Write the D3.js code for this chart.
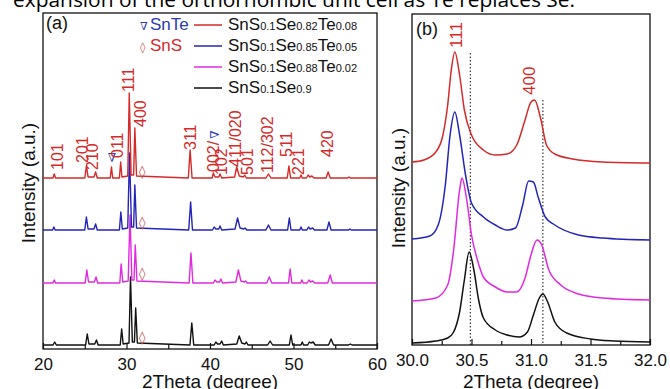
<!DOCTYPE html>
<html>
<head>
<meta charset="utf-8">
<script src="https://cdnjs.cloudflare.com/ajax/libs/d3/7.8.5/d3.min.js"></script>
<style>
body { margin: 0; background: #fff; }
svg { display: block; }
</style>
</head>
<body>
<script>
// ---------------- data ----------------
// panel (a): 2Theta, intensity above each pattern's own baseline (a.u.)
var redA = [[20,0],[21.2,0],[21.35,4],[21.5,0],[25.0,0],[25.2,12],[25.4,1],[26.1,1],[26.3,6],[26.5,0],[28.05,0],[28.2,11],[28.35,0],[29.15,0],[29.3,16],[29.45,1],[30.15,2],[30.33,85],[30.55,3],[30.85,3],[31.0,50],[31.2,2],[37.4,0],[37.62,28],[37.85,0],[40.25,0],[40.4,5],[40.6,1],[41.05,1],[41.2,4],[41.4,0],[42.95,1],[43.2,11],[43.5,2],[44.0,1],[44.15,3],[44.35,0],[46.7,0],[47.0,4],[47.3,0],[49.25,0],[49.45,12],[49.65,0],[50.75,0],[50.9,3],[51.05,0],[51.55,0],[51.75,3],[51.95,1],[52.2,2],[52.45,0],[53.9,0],[54.15,6],[54.4,0],[56.5,0],[56.65,1],[56.8,0],[60,0]];
var blueA = [[20,0],[21.15,0],[21.3,3],[21.45,0],[25.0,0],[25.2,13],[25.4,1],[26.1,1],[26.3,6],[26.5,0],[29.15,0],[29.32,18],[29.5,1],[30.15,2],[30.36,77],[30.6,3],[30.85,3],[31.0,45],[31.2,2],[37.45,0],[37.68,28],[37.9,0],[40.3,0],[40.5,3],[40.7,1],[41.05,1],[41.2,4],[41.4,0],[43.0,1],[43.3,12],[43.6,2],[44.05,1],[44.2,2],[44.4,0],[46.7,0],[47.0,5],[47.3,0],[49.3,0],[49.5,12],[49.7,0],[50.75,0],[50.9,3],[51.05,0],[51.6,0],[51.8,3],[52.0,1],[52.3,2],[52.5,0],[54.0,0],[54.25,8],[54.5,0],[56.6,0],[56.75,1],[56.9,0],[60,0]];
var magentaA = [[20,0],[21.2,0],[21.35,3],[21.5,0],[25.05,0],[25.25,13],[25.45,1],[26.15,1],[26.35,6],[26.55,0],[29.2,0],[29.36,19],[29.55,1],[30.2,2],[30.42,68],[30.65,3],[30.9,3],[31.05,38],[31.25,2],[37.5,0],[37.72,30],[37.95,0],[40.4,0],[40.6,3],[40.8,1],[41.15,1],[41.3,4],[41.5,0],[43.1,1],[43.4,13],[43.7,2],[44.1,1],[44.25,2],[44.45,0],[46.8,0],[47.1,6],[47.4,0],[49.4,0],[49.6,14],[49.8,0],[50.85,0],[51.0,3],[51.15,0],[51.65,0],[51.85,3],[52.05,1],[52.3,2],[52.55,0],[54.1,0],[54.4,8],[54.65,0],[60,0]];
var blackA = [[20,0],[21.2,0],[21.4,3],[21.6,0],[25.1,0],[25.3,11],[25.5,1],[26.2,1],[26.4,5],[26.6,0],[29.25,0],[29.42,16],[29.6,1],[30.3,2],[30.48,68],[30.7,3],[30.95,3],[31.1,37],[31.3,2],[37.6,0],[37.82,22],[38.05,0],[40.5,0],[40.7,3],[40.9,1],[41.2,1],[41.4,4],[41.6,0],[43.2,1],[43.5,9],[43.8,2],[44.2,1],[44.35,3],[44.55,0],[46.9,0],[47.2,4],[47.5,0],[49.5,0],[49.7,10],[49.9,0],[50.9,0],[51.05,3],[51.2,0],[51.7,0],[51.9,3],[52.1,2],[52.35,3],[52.6,0],[54.2,0],[54.5,6],[54.8,0],[56.6,0],[56.8,1],[57.0,0],[60,0]];
var offsetsA = [171, 119, 66, 4]; // red, blue, magenta, black

// panel (b): 2Theta, intensity (a.u.)
var redB = [[30.0,183],[30.1,185],[30.2,193],[30.26,210],[30.3,240],[30.33,275],[30.36,293],[30.4,270],[30.44,235],[30.5,210],[30.6,195],[30.7,190],[30.8,191],[30.88,200],[30.95,225],[31.0,243],[31.03,245],[31.08,227],[31.13,200],[31.2,191],[31.35,186],[31.6,183],[32.0,182]];
var blueB = [[30.0,106],[30.15,109],[30.22,120],[30.28,160],[30.32,210],[30.36,233],[30.4,210],[30.45,170],[30.5,142],[30.6,128],[30.7,120],[30.8,115],[30.87,117],[30.93,140],[30.98,164],[31.02,163],[31.06,148],[31.12,128],[31.2,120],[31.4,110],[31.6,107],[32.0,105]];
var magentaB = [[30.0,44],[30.2,47],[30.3,60],[30.35,95],[30.4,155],[30.42,167],[30.46,145],[30.5,110],[30.55,85],[30.6,68],[30.7,58],[30.8,53],[30.88,53],[30.95,67],[31.0,90],[31.05,105],[31.09,100],[31.15,75],[31.25,60],[31.4,51],[31.6,47],[32.0,45]];
var blackB = [[30.0,2],[30.2,4],[30.3,7],[30.35,13],[30.4,33],[30.44,65],[30.48,93],[30.52,75],[30.56,45],[30.6,27],[30.7,15],[30.8,10],[30.9,8],[30.97,13],[31.02,30],[31.07,47],[31.1,51],[31.14,43],[31.2,23],[31.3,12],[31.5,6],[31.7,4],[32.0,3]];

var colors = ["#d42a2a", "#2424b8", "#e02ae0", "#111111"];
var legendParts = [
  ["SnS","0.1","Se","0.82","Te","0.08"],
  ["SnS","0.1","Se","0.85","Te","0.05"],
  ["SnS","0.1","Se","0.88","Te","0.02"],
  ["SnS","0.1","Se","0.9"]
];

// hkl labels on the top pattern of (a)
var hklText = ["101","201","210","011","111","400","311","002/","102","411/020","501","112/302","511","221","420"];
var hklPos  = [21.68,24.67,25.87,28.86,30.18,31.62,37.6,40.36,41.32,43.0,44.43,46.83,49.1,50.54,54.0];
var hklBase = [179,186,179,191,257,222,199,177,174,182,174,176,192,174,192];
var snsPos = 31.87;
var snsHeight = [178, 127, 76, 12];
var snteMark = [28.26, 191];

var hklTextB = ["111","400"];
var hklPosB  = [30.37, 30.98];
var hklBaseB = [297, 250];
var refLines = [[30.49, 292], [31.1, 245]];

var ticksA = [20,30,40,50,60], minorA = [25,35,45,55];
var ticksB = [30.0,30.5,31.0,31.5,32.0], minorB = [30.25,30.75,31.25,31.75];

// ---------------- drawing ----------------
var font = "Arial, 'Liberation Sans', sans-serif";
var svg = d3.select("body").append("svg")
    .attr("width", 670).attr("height", 389)
    .attr("font-family", font);

// caption fragment cut off at the top
svg.append("text")
  .attr("x", 13).attr("y", 7)
  .attr("font-family", "'Open Sans', sans-serif")
  .attr("font-size", 20)
  .attr("textLength", 562).attr("lengthAdjust", "spacingAndGlyphs")
  .text("expansion of the orthorhombic unit cell as Te replaces Se.");

var xA = d3.scaleLinear().domain([20, 60]).range([43, 377]);
var yA = d3.scaleLinear().domain([0, 336]).range([349, 13]);
var xB = d3.scaleLinear().domain([30, 32]).range([412, 650]);
var yB = d3.scaleLinear().domain([0, 331]).range([345, 14]);

function drawAxes(x, y, major, minor, fmt) {
  var g = svg.append("g").attr("transform", "translate(0," + y.range()[0] + ")");
  g.call(d3.axisBottom(x).tickValues(major).tickSize(-6).tickPadding(9).tickFormat(fmt));
  g.call(function (s) { s.select(".domain").remove(); });
  g.attr("font-family", font).attr("font-size", 17);
  g.selectAll("text").attr("fill", "#111");
  var m = svg.append("g").attr("transform", "translate(0," + y.range()[0] + ")");
  m.call(d3.axisBottom(x).tickValues(minor).tickSize(-4).tickFormat(""));
  m.select(".domain").remove();
  svg.selectAll(".tick line").attr("stroke", "#111").attr("stroke-width", 1.2);
  svg.append("rect")
    .attr("x", x.range()[0]).attr("y", y.range()[1])
    .attr("width", x.range()[1] - x.range()[0])
    .attr("height", y.range()[0] - y.range()[1])
    .attr("fill", "none").attr("stroke", "#111").attr("stroke-width", 1.3);
  svg.append("text")
    .attr("x", (x.range()[0] + x.range()[1]) / 2).attr("y", 388)
    .attr("text-anchor", "middle").attr("font-size", 19).attr("fill", "#111")
    .text("2Theta (degree)");
}

drawAxes(xA, yA, ticksA, minorA, d3.format("d"));
drawAxes(xB, yB, ticksB, minorB, d3.format(".1f"));

[[35, 183], [405, 188]].forEach(function (p) {
  svg.append("text")
    .attr("transform", "translate(" + p[0] + "," + p[1] + ") rotate(-90)")
    .attr("text-anchor", "middle").attr("font-size", 19).attr("fill", "#111")
    .text("Intensity (a.u.)");
});

// ---- panel (a) patterns ----
var seriesA = [redA, blueA, magentaA, blackA];
var drawOrder = [3, 2, 1, 0];
drawOrder.forEach(function (i) {
  var off = offsetsA[i];
  var line = d3.line()
    .x(function (d) { return xA(d[0]); })
    .y(function (d) { return yA(d[1] + off); });
  svg.append("path").datum(seriesA[i])
    .attr("d", line)
    .attr("fill", "none").attr("stroke", colors[i])
    .attr("stroke-width", 1.4).attr("stroke-linejoin", "round");
});

// SnS diamonds
svg.selectAll(".sns").data(snsHeight).enter().append("text")
  .attr("class", "sns")
  .attr("x", xA(snsPos)).attr("y", function (d) { return yA(d); })
  .attr("dy", "0.35em").attr("text-anchor", "middle")
  .attr("font-family", "'DejaVu Sans', sans-serif").attr("font-size", 13)
  .attr("fill", "#c85050").text("\u25CA");

// SnTe marker
svg.append("text")
  .attr("x", xA(snteMark[0])).attr("y", yA(snteMark[1]))
  .attr("dy", "0.35em").attr("text-anchor", "middle")
  .attr("font-family", "'DejaVu Serif', serif").attr("font-size", 12)
  .attr("fill", "#2a3ab0").text("\u2207");

// hkl labels
var hkl = svg.selectAll(".hkl").data(hklText).enter().append("text")
  .attr("class", "hkl")
  .attr("transform", function (d, i) {
    return "translate(" + xA(hklPos[i]) + "," + yA(hklBase[i]) + ") rotate(-90)";
  })
  .attr("dy", "0.35em").attr("font-size", 16).attr("fill", "#d42a2a");
hkl.append("tspan").text(function (d) { return d; });
hkl.filter(function (d) { return d === "002/"; })
  .append("tspan").attr("fill", "#2a3ab0")
  .attr("font-family", "'DejaVu Serif', serif").attr("font-size", 12)
  .attr("dx", 2).text("\u2207");

svg.append("text").attr("x", 46).attr("y", 29).attr("font-size", 18).attr("fill", "#111").text("(a)");

// legend
var legend = svg.append("g");
legendParts.forEach(function (parts, i) {
  var yy = 25 + i * 21;
  legend.append("line")
    .attr("x1", 194).attr("x2", 222).attr("y1", yy).attr("y2", yy)
    .attr("stroke", colors[i]).attr("stroke-width", 1.5);
  var t = legend.append("text").attr("x", 228).attr("y", yy + 5).attr("fill", "#111");
  parts.forEach(function (p, k) {
    t.append("tspan").attr("font-size", k % 2 ? 11 : 17).text(p);
  });
});
legend.append("text").attr("x", 140).attr("y", 30)
  .attr("font-family", "'DejaVu Serif', serif").attr("font-size", 11)
  .attr("fill", "#2a3ab0").text("\u2207");
legend.append("text").attr("x", 150).attr("y", 30).attr("font-size", 17)
  .attr("fill", "#2a3ab0").text("SnTe");
legend.append("text").attr("x", 140).attr("y", 51)
  .attr("font-family", "'DejaVu Sans', sans-serif").attr("font-size", 11)
  .attr("fill", "#c85050").text("\u25CA");
legend.append("text").attr("x", 150).attr("y", 51).attr("font-size", 17)
  .attr("fill", "#d42a2a").text("SnS");

// ---- panel (b) ----
svg.selectAll(".ref").data(refLines).enter().append("line")
  .attr("class", "ref")
  .attr("x1", function (d) { return xB(d[0]); }).attr("x2", function (d) { return xB(d[0]); })
  .attr("y1", function (d) { return yB(d[1]); }).attr("y2", yB(0))
  .attr("stroke", "#111").attr("stroke-width", 1).attr("stroke-dasharray", "1.5,2");

var seriesB = [redB, blueB, magentaB, blackB];
var lineB = d3.line()
  .x(function (d) { return xB(d[0]); })
  .y(function (d) { return yB(d[1]); })
  .curve(d3.curveMonotoneX);
drawOrder.forEach(function (i) {
  svg.append("path").datum(seriesB[i])
    .attr("d", lineB)
    .attr("fill", "none").attr("stroke", colors[i]).attr("stroke-width", 1.5);
});

svg.selectAll(".hklb").data(hklTextB).enter().append("text")
  .attr("class", "hklb")
  .attr("transform", function (d, i) {
    return "translate(" + xB(hklPosB[i]) + "," + yB(hklBaseB[i]) + ") rotate(-90)";
  })
  .attr("dy", "0.35em").attr("font-size", 17).attr("fill", "#d42a2a")
  .text(function (d) { return d; });

svg.append("text").attr("x", 416).attr("y", 35).attr("font-size", 18).attr("fill", "#111").text("(b)");
</script>
</body>
</html>
